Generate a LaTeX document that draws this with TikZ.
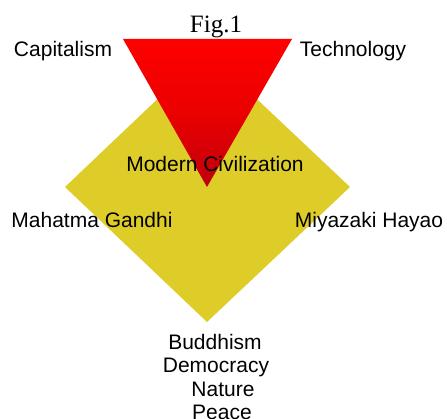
\documentclass[tikz,border=0pt]{standalone}
\usepackage{fontspec}
\setmainfont{Liberation Serif}
\setsansfont{Liberation Sans}
\usepackage{xcolor}
\usepackage{tikz}
\usetikzlibrary{positioning}

\definecolor{civyellow}{RGB}{222,205,40}
\definecolor{civred}{RGB}{255,0,0}
\definecolor{civdarkred}{RGB}{190,0,12}

\begin{document}
\begin{tikzpicture}[x=1pt,y=-1pt]

\tikzstyle{concept}=[font=\sffamily\fontsize{21}{23}\selectfont,inner sep=0pt,anchor=base]

\useasboundingbox (0,0) rectangle (447,419);

% diamond and funnel
\fill[civyellow] (207,52) -- (350,187) -- (207,322) -- (65,187) -- cycle;
\shade[top color=civred,bottom color=civdarkred,middle color=civred!92!black]
    (123,39) -- (292,39) -- (207,187) -- cycle;

\node[font=\rmfamily\fontsize{25}{28}\selectfont,inner sep=0pt,anchor=base] (title) at (216,33) {Fig.1};

\node[concept] (capitalism) at (63,57) {Capitalism};
\node[concept] (technology) at (353,57) {Technology};
\node[concept] (modern) at (215,172) {Modern Civilization};
\node[concept] (gandhi) at (92,228) {Mahatma Gandhi};
\node[concept] (miyazaki) at (369,228) {Miyazaki Hayao};

\foreach \word/\x/\y in {Buddhism/215/350,Democracy/216/373,Nature/223/396,Peace/222/419}
    \node[concept] (\word) at (\x,\y) {\word};

\end{tikzpicture}
\end{document}
